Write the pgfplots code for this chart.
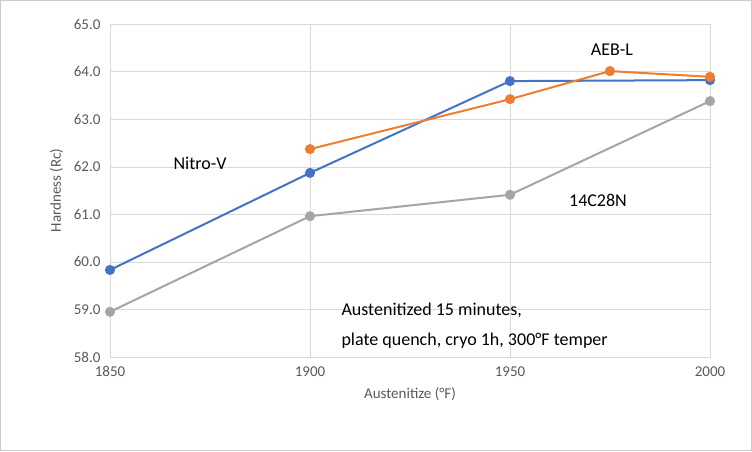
\documentclass[border=0pt]{standalone}
\usepackage{pgfplots}
\pgfplotsset{compat=1.18}
\usepackage{fontspec}
\setmainfont{Carlito}
\definecolor{cb}{HTML}{4472C4}
\definecolor{co}{HTML}{ED7D31}
\definecolor{cg}{HTML}{A5A5A5}
\definecolor{tx}{HTML}{595959}
\begin{document}
\begin{tikzpicture}
\begin{axis}[scale only axis, width=600pt, height=333pt,
 xmin=1850, xmax=2000, ymin=58, ymax=65,
 xtick={1850,1900,1950,2000}, ytick={58,59,...,65},
 grid=major, grid style={draw=black!15}, axis line style={draw=black!15},
 major tick length=0pt,
 /pgf/number format/assume math mode=true,
 xticklabel style={font=\fontsize{15}{17}\selectfont, text=tx, yshift=-6pt, /pgf/number format/1000 sep={}},
 yticklabel style={font=\fontsize{15}{17}\selectfont, text=tx, xshift=-6pt, /pgf/number format/.cd, fixed, fixed zerofill, precision=1},
 xlabel={Austenitize (°F)}, ylabel={Hardness (Rc)},
 xlabel style={yshift=-4pt}, ylabel style={yshift=4pt},
 label style={font=\fontsize{15}{17}\selectfont, text=tx},
 every axis plot/.append style={line width=2pt, mark=*, mark size=4pt},
 clip=false]
\addplot[cb, mark options={fill=cb}] coordinates {(1850,59.83)(1900,61.87)(1950,63.80)(2000,63.82)};
\addplot[co, mark options={fill=co}] coordinates {(1900,62.37)(1950,63.42)(1975,64.01)(2000,63.89)};
\addplot[cg, mark options={fill=cg}] coordinates {(1850,58.95)(1900,60.96)(1950,61.41)(2000,63.38)};
\node[font=\fontsize{18}{20}\selectfont] at (axis cs:1872.5,62.08) {Nitro-V};
\node[font=\fontsize{18}{20}\selectfont] at (axis cs:1975.5,64.45) {AEB-L};
\node[font=\fontsize{18}{20}\selectfont] at (axis cs:1972,61.3) {14C28N};
\node[font=\fontsize{18}{20}\selectfont, anchor=west] at (axis cs:1907,58.97) {Austenitized 15 minutes,};
\node[font=\fontsize{18}{20}\selectfont, anchor=west] at (axis cs:1907,58.34) {plate quench, cryo 1h, 300°F temper};
\draw[black!20] (rel axis cs:0,0) ++(-109.5pt,-93.5pt) rectangle ++(751pt,450pt);
\path (rel axis cs:0,0) ++(-110pt,-94pt) rectangle ++(752pt,451pt);
\end{axis}
\end{tikzpicture}
\end{document}
